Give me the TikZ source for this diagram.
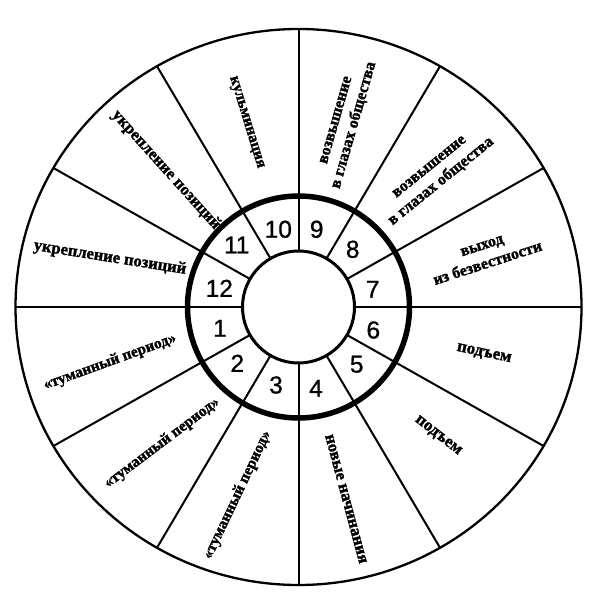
\documentclass[tikz,border=0pt]{standalone}
\usepackage{fontspec}
\setmainfont{Liberation Serif}
\newfontfamily\heavyfont[BoldFeatures={FakeBold=1.6}]{Liberation Serif}
\newfontfamily\numfont[FakeBold=0.8]{Liberation Sans}
\newcommand{\lsz}[1]{\heavyfont\bfseries\fontsize{#1}{19}\selectfont}
\begin{document}
\begin{tikzpicture}[x=1pt,y=1pt,
  lbl/.style={font=\lsz{16}, inner sep=0pt, align=center},
  num/.style={font=\numfont\fontsize{24.5}{24.5}\selectfont, inner sep=0pt},
  spoke/.style={line width=2pt},
  rim/.style={line width=2.3pt}]
\useasboundingbox (-298.5,-300) rectangle (303.5,307);
\fill[white] (-298.5,-300) rectangle (303.5,307);
\draw[rim] (0,0) ellipse [x radius=283, y radius=278];
\foreach \a in {0,30,...,330}
  \draw[spoke] (\a:56) -- ({283*cos(\a)},{278*sin(\a)});
\draw[line width=5.5pt] (0,0) circle (111);
\draw[line width=3pt] (0,0) circle (56);
% numbers
\node[num] (n1)  at (-78.5,-21.3) {1};
\node[num] (n2)  at (-61.2,-56.3) {2};
\node[num] (n3)  at (-22.5,-78)   {3};
\node[num] (n4)  at (17.5,-81.3)  {4};
\node[num] (n5)  at (58.2,-57.3)  {5};
\node[num] (n6)  at (74.8,-23)    {6};
\node[num] (n7)  at (74.2,17.7)   {7};
\node[num] (n8)  at (54.2,57.7)   {8};
\node[num] (n9)  at (18.2,77.7)   {9};
\node[num] (n10) at (-20.2,77.7)  {10};
\node[num] (n11) at (-61.8,62)    {11};
\node[num] (n12) at (-79.2,18.7)  {12};
% labels
\node[lbl, font=\lsz{16.6}, rotate=-9]  (t12) at (-188.5,49)  {укрепление позиций};
\node[lbl, font=\lsz{16.6}, rotate=-48] (t11) at (-132.5,137) {укрепление позиций};
\node[lbl, font=\lsz{15.5}, rotate=-73] (t10) at (-52.5,184.5) {кульминация};
\node[lbl, rotate=74]  (t9)  at (47.5,184)   {возвышение\\в глазах общества};
\node[lbl, rotate=39]  (t8)  at (137.5,132)  {возвышение\\в глазах общества};
\node[lbl, rotate=18]  (t7)  at (186.5,52)   {выход\\из безвестности};
\node[lbl, font=\lsz{17}, rotate=-12] (t6)  at (185.5,-47)  {подъем};
\node[lbl, font=\lsz{17}, rotate=-38] (t5)  at (139.5,-129) {подъем};
\node[lbl, font=\lsz{16.6}, rotate=-75] (t4)  at (47.5,-192)  {новые начинания};
\node[lbl, font=\lsz{15.5}, rotate=64.6] (t3) at (-61,-188)   {«туманный период»};
\node[lbl, font=\lsz{15.5}, rotate=37]  (t2)  at (-136.5,-136) {«туманный период»};
\node[lbl, font=\lsz{15.5}, rotate=20]  (t1)  at (-188.5,-55) {«туманный период»};
\end{tikzpicture}
\end{document}
